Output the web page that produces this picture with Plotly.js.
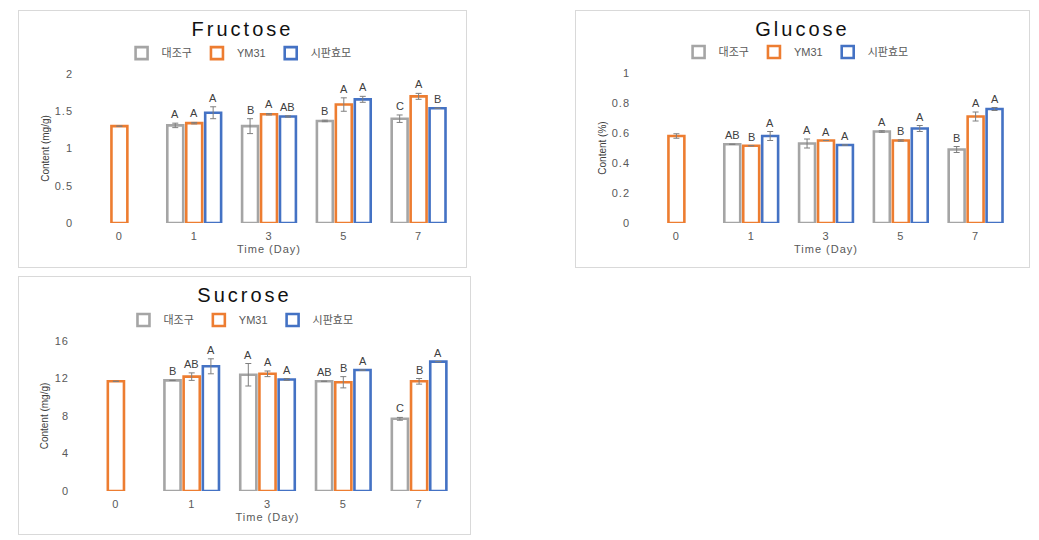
<!DOCTYPE html>
<html>
<head>
<meta charset="utf-8">
<script src="https://cdn.plot.ly/plotly-3.0.1.min.js"></script>
<style>
  body { margin: 0; background: #fff; width: 1039px; height: 540px; position: relative; overflow: hidden; }
  .panel { position: absolute; border: 1px solid #d9d9d9; box-sizing: border-box; }
  /* the source figure uses widely spaced lettering */
  .panel .gtitle { letter-spacing: 3px; }
  .panel .xtick text, .panel .ytick text, .panel .xtitle { letter-spacing: 1px; }
</style>
</head>
<body>
<div id="fructose" class="panel" style="left:18px;top:10px;width:449px;height:258px"></div>
<div id="glucose" class="panel" style="left:575px;top:10px;width:455px;height:258px"></div>
<div id="sucrose" class="panel" style="left:18px;top:276px;width:453px;height:259px"></div>
<script>
// categories / series
let days = ["0", "1", "3", "5", "7"];
let seriesNames = ["대조구", "YM31", "시판효모"];
let colors = ["#a5a5a5", "#ed7d31", "#4472c4"];

// Fructose (mg/g)
let fructoseCtrl = [null, 1.31, 1.30, 1.37, 1.40];
let fructoseCtrlErr = [0, 0.03, 0.10, 0.01, 0.05];
let fructoseYM31 = [1.30, 1.34, 1.46, 1.59, 1.70];
let fructoseYM31Err = [0, 0.01, 0.01, 0.09, 0.04];
let fructoseComm = [null, 1.48, 1.43, 1.66, 1.54];
let fructoseCommErr = [0, 0.08, 0.01, 0.04, 0];
let fructoseLetters = [["", "A", "B", "B", "C"], ["", "A", "A", "A", "A"], ["", "A", "AB", "A", "B"]];

// Glucose (%)
let glucoseCtrl = [null, 0.525, 0.53, 0.61, 0.49];
let glucoseCtrlErr = [0, 0, 0.03, 0.005, 0.02];
let glucoseYM31 = [0.58, 0.515, 0.55, 0.55, 0.71];
let glucoseYM31Err = [0.015, 0, 0, 0.005, 0.03];
let glucoseComm = [null, 0.58, 0.52, 0.63, 0.76];
let glucoseCommErr = [0, 0.03, 0, 0.02, 0.01];
let glucoseLetters = [["", "AB", "A", "A", "B"], ["", "B", "A", "B", "A"], ["", "A", "A", "A", "A"]];

// Sucrose (mg/g)
let sucroseCtrl = [null, 11.8, 12.4, 11.7, 7.7];
let sucroseCtrlErr = [0, 0, 1.2, 0, 0.15];
let sucroseYM31 = [11.7, 12.2, 12.5, 11.6, 11.7];
let sucroseYM31Err = [0, 0.4, 0.3, 0.6, 0.3];
let sucroseComm = [null, 13.3, 11.9, 12.9, 13.8];
let sucroseCommErr = [0, 0.8, 0.1, 0, 0];
let sucroseLetters = [["", "B", "A", "AB", "C"], ["", "AB", "A", "B", "B"], ["", "A", "A", "A", "A"]];

const FONT = "Liberation Sans, Arial, Noto Sans CJK KR, sans-serif";
const BARGAP = 0.24;

function drawPanel(id, title, yTitle, vals, errs, letters, yRange, dtick, margin, legendX) {
  let el = document.getElementById(id);
  let data = vals.map((v, j) => ({
    type: "bar",
    name: seriesNames[j],
    x: days,
    y: v,
    marker: { color: "#ffffff", line: { color: colors[j], width: 2.6 } },
    error_y: { type: "data", array: errs[j], visible: true, color: "#7f7f7f", thickness: 1, width: 3 },
    hoverinfo: "y"
  }));

  // significance letters above each bar (+ error)
  let slot = (1 - BARGAP) / 3;
  let annotations = [];
  vals.forEach((v, j) => {
    v.forEach((y, i) => {
      if (y === null || !letters[j][i]) return;
      annotations.push({
        x: i + (j - 1) * slot, y: y + errs[j][i], xref: "x", yref: "y",
        text: letters[j][i], showarrow: false, yanchor: "bottom", yshift: 1,
        font: { family: FONT, size: 11, color: "#404040" }
      });
    });
  });

  let layout = {
    width: parseInt(el.style.width) - 2,
    height: parseInt(el.style.height) - 2,
    margin: margin,
    paper_bgcolor: "#fff",
    plot_bgcolor: "#fff",
    barmode: "group",
    bargap: BARGAP,
    bargroupgap: 0.16,
    title: { text: title, x: 0.5, xref: "container", xanchor: "center",
             y: 1 - 18 / (parseInt(el.style.height) - 2), yref: "container", yanchor: "middle",
             font: { family: FONT, size: 20, color: "#111" } },
    showlegend: true,
    legend: { orientation: "h", x: legendX, xanchor: "center", y: 1.14, yanchor: "middle",
              font: { family: FONT, size: 11, color: "#595959" }, itemwidth: 30, traceorder: "normal" },
    xaxis: { type: "category", showgrid: false, zeroline: false, showline: false, ticks: "",
             ticklabelstandoff: 5,
             tickfont: { family: FONT, size: 11, color: "#595959" },
             title: { text: "Time (Day)", standoff: 4, font: { family: FONT, size: 11, color: "#595959" } } },
    yaxis: { range: yRange, dtick: dtick, showgrid: false, zeroline: false, showline: false, ticks: "",
             ticklabelstandoff: 8,
             tickfont: { family: FONT, size: 11, color: "#595959" },
             title: { text: yTitle, standoff: 6, font: { family: FONT, size: 10, color: "#404040" } } },
    annotations: annotations
  };
  Plotly.newPlot(id, data, layout, { displayModeBar: false, staticPlot: true });
}

drawPanel("fructose", "Fructose", "Content (mg/g)",
  [fructoseCtrl, fructoseYM31, fructoseComm],
  [fructoseCtrlErr, fructoseYM31Err, fructoseCommErr],
  fructoseLetters, [0, 2], 0.5, { l: 63, r: 10, t: 63, b: 44 }, 0.42);

drawPanel("glucose", "Glucose", "Content (%)",
  [glucoseCtrl, glucoseYM31, glucoseComm],
  [glucoseCtrlErr, glucoseYM31Err, glucoseCommErr],
  glucoseLetters, [0, 1], 0.2, { l: 63, r: 16, t: 62, b: 44 }, 0.42);

drawPanel("sucrose", "Sucrose", "Content (mg/g)",
  [sucroseCtrl, sucroseYM31, sucroseComm],
  [sucroseCtrlErr, sucroseYM31Err, sucroseCommErr],
  sucroseLetters, [0, 16], 4, { l: 59, r: 13, t: 64, b: 43 }, 0.43);
</script>
</body>
</html>
